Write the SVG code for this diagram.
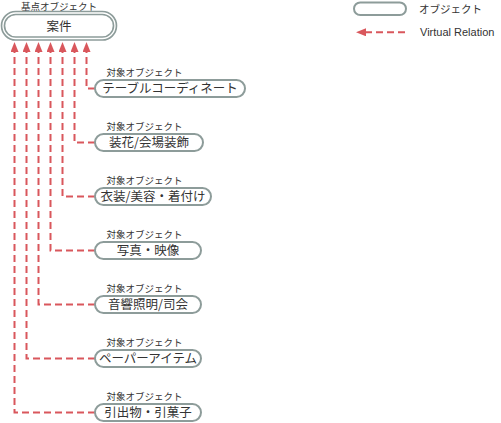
<svg xmlns="http://www.w3.org/2000/svg" width="501" height="423" viewBox="0 0 501 423">
<style>
.node{fill:#fff;stroke:#8d9c9a;stroke-width:2}
.lbl{font-family:"Noto Sans CJK JP","Noto Sans",sans-serif;font-size:12.5px;fill:#333;text-anchor:middle}
.cap{font-family:"Noto Sans CJK JP","Noto Sans",sans-serif;font-size:9.5px;fill:#333}
.rel{fill:none;stroke:#d9575c;stroke-width:2;stroke-dasharray:7 4}
</style>
<defs>
<marker id="ah" markerUnits="userSpaceOnUse" viewBox="0 0 10 8" markerWidth="10" markerHeight="8" refX="0" refY="4" orient="auto">
<path d="M0,0 L10,4 L0,8 z" fill="#d9575c"/>
</marker>
</defs>
<g id="connectors">
<path class="rel" d="M95,88.5 H86.5 V52" marker-end="url(#ah)"/>
<path class="rel" d="M95,142.5 H74.5 V52" marker-end="url(#ah)"/>
<path class="rel" d="M95,196.5 H62.5 V52" marker-end="url(#ah)"/>
<path class="rel" d="M95,250.5 H50.5 V52" marker-end="url(#ah)"/>
<path class="rel" d="M95,304.5 H38.5 V52" marker-end="url(#ah)"/>
<path class="rel" d="M95,358.5 H26.5 V52" marker-end="url(#ah)"/>
<path class="rel" d="M95,412.5 H14.5 V52" marker-end="url(#ah)"/>
</g>
<g id="base">
<text class="cap" x="59" y="9.5" text-anchor="middle">基点オブジェクト</text>
<rect x="3" y="13" width="112" height="25.5" rx="12.75" fill="#fff" stroke="#8d9c9a" stroke-width="4.6"/>
<rect x="3" y="13" width="112" height="25.5" rx="12.75" fill="none" stroke="#fff" stroke-width="1.3"/>
<text class="lbl" x="59" y="30.5" font-size="13">案件</text>
</g>
<g id="n1">
<text class="cap" x="106.5" y="75.5">対象オブジェクト</text>
<rect class="node" x="95" y="80" width="150" height="17" rx="8.5"/>
<text class="lbl" x="170" y="93">テーブルコーディネート</text>
</g>
<g id="n2">
<text class="cap" x="106.5" y="129.5">対象オブジェクト</text>
<rect class="node" x="95" y="134" width="108" height="17" rx="8.5"/>
<text class="lbl" x="149" y="147">装花/会場装飾</text>
</g>
<g id="n3">
<text class="cap" x="106.5" y="183.5">対象オブジェクト</text>
<rect class="node" x="95" y="188" width="116" height="17" rx="8.5"/>
<text class="lbl" x="153" y="201">衣装/美容・着付け</text>
</g>
<g id="n4">
<text class="cap" x="106.5" y="237.5">対象オブジェクト</text>
<rect class="node" x="95" y="242" width="106" height="17" rx="8.5"/>
<text class="lbl" x="148" y="255">写真・映像</text>
</g>
<g id="n5">
<text class="cap" x="106.5" y="291.5">対象オブジェクト</text>
<rect class="node" x="95" y="296" width="106" height="17" rx="8.5"/>
<text class="lbl" x="148" y="309">音響照明/司会</text>
</g>
<g id="n6">
<text class="cap" x="106.5" y="345.5">対象オブジェクト</text>
<rect class="node" x="95" y="350" width="106" height="17" rx="8.5"/>
<text class="lbl" x="148" y="363">ペーパーアイテム</text>
</g>
<g id="n7">
<text class="cap" x="106.5" y="399.5">対象オブジェクト</text>
<rect class="node" x="95" y="404" width="106" height="17" rx="8.5"/>
<text class="lbl" x="148" y="417">引出物・引菓子</text>
</g>
<g id="legend">
<rect class="node" x="354" y="2.5" width="52" height="12.5" rx="6.25"/>
<text x="419" y="13" font-family="'Noto Sans CJK JP','Noto Sans',sans-serif" font-size="10.5" fill="#333">オブジェクト</text>
<path class="rel" d="M405,32.3 H366" marker-end="url(#ah)"/>
<text x="420" y="36" font-family="'Liberation Sans',Arial,sans-serif" font-size="11" fill="#333">Virtual Relation</text>
</g>
</svg>
